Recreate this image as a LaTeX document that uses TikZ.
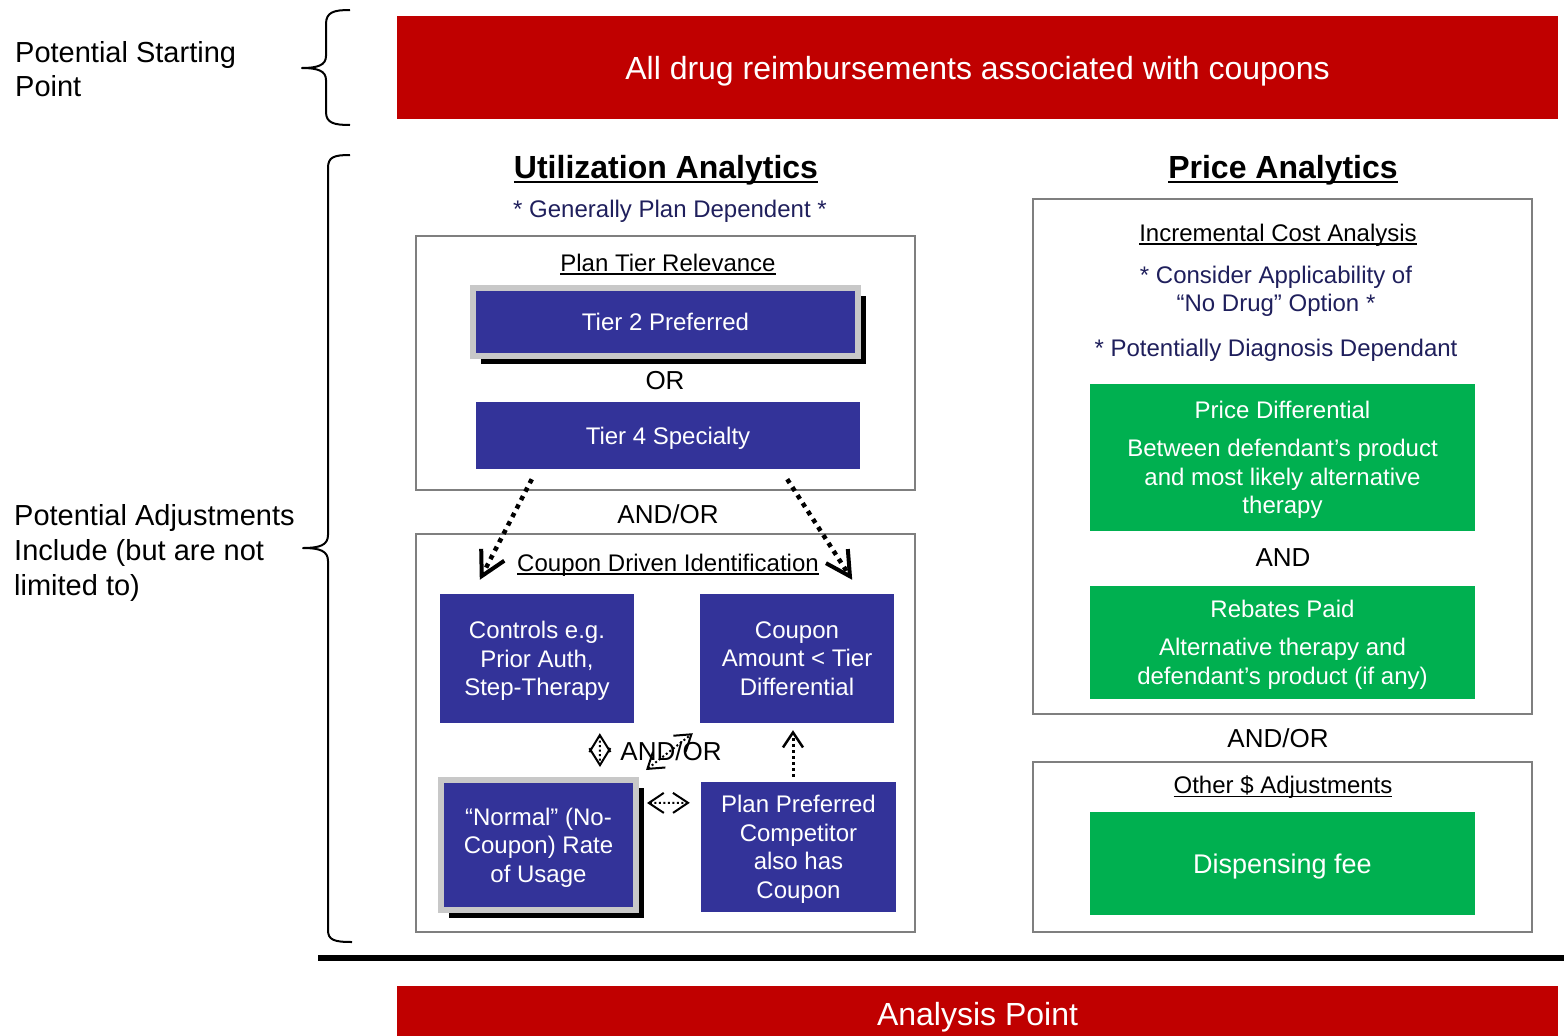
\documentclass[tikz,border=0pt]{standalone}
\usepackage{fontspec}
\setmainfont{Liberation Sans}
\usetikzlibrary{arrows.meta,calc,shadows}
\definecolor{cred}{HTML}{C00000}
\definecolor{cblue}{HTML}{333399}
\definecolor{cgreen}{HTML}{00B050}
\definecolor{cnavy}{HTML}{1F1F5C}
\definecolor{cframe}{HTML}{C8C8C8}
\definecolor{cborder}{HTML}{7F7F7F}
\newcommand\fsz[2]{\fontsize{#1}{#2}\selectfont}
% underline at a fixed distance below the baseline
\newcommand\undl[1]{\begingroup\setbox0=\hbox{#1}\rlap{\rule[-0.14em]{\wd0}{0.07em}}\box0\endgroup}
\begin{document}
\begin{tikzpicture}[x=1pt,y=-1pt,
  every node/.style={text depth=0pt},
  plain/.style={inner sep=0pt, align=center},
  redbar/.style={fill=cred, text=white, inner sep=0pt, font=\fsz{32}{38}},
  panel/.style={draw=cborder, line width=1.5pt, fill=white, minimum width=499pt, inner sep=0pt},
  bluebox/.style={fill=cblue, text=white, align=center, inner sep=0pt, font=\fsz{24}{28.5}},
  framedbox/.style={bluebox, draw=cframe, line width=6pt,
    general shadow={fill=black, shadow xshift=8pt, shadow yshift=-8pt}},
  greenbox/.style={fill=cgreen, text=white, align=center, inner sep=0pt,
    minimum width=385pt, font=\fsz{24}{28.5}},
  brace/.style={line width=2pt, line join=round},
  bigdot/.style={line width=4.5pt, dash pattern=on 4.5pt off 5pt,
    -{Straight Barb[length=24pt,width=26pt,line width=4pt]}},
  smalldbl/.style={line width=2pt, dash pattern=on 2pt off 2.5pt,
    {Straight Barb[length=15pt,width=20pt,line width=2pt]}-{Straight Barb[length=15pt,width=20pt,line width=2pt]}},
  smallup/.style={line width=3pt, dash pattern=on 3pt off 3pt,
    -{Straight Barb[length=15pt,width=20pt,line width=2.5pt]}}
]
\useasboundingbox (0,0) rectangle (1564,1036);

% ---- starting point and analysis point bars
\node[redbar, minimum width=1161pt, minimum height=103pt] (start) at (977.5,67.5)
  {All drug reimbursements associated with coupons};
\node[redbar, minimum width=1161pt, minimum height=56pt] (analysis) at (977.5,1014)
  {Analysis Point};

% ---- left captions and braces
\node[plain, anchor=west, align=left, font=\fsz{29}{34}] (lstart) at (15,69)
  {Potential Starting\\Point};
\node[plain, anchor=west, align=left, font=\fsz{29}{35}] (ladj) at (14,550)
  {Potential Adjustments\\Include (but are not\\limited to)};

\draw[brace] (350,10) .. controls (334,10) and (326,12) .. (326,24) -- (326,56)
  .. controls (326,65) and (318,68) .. (302,68)
  .. controls (318,68) and (326,71) .. (326,80) -- (326,112)
  .. controls (326,123) and (334,125) .. (350,125);
\draw[brace] (350,155) .. controls (334,155) and (328,157) .. (328,168) -- (328,535)
  .. controls (328,545) and (320,548) .. (303,548)
  .. controls (320,548) and (328,551) .. (328,561) -- (328,930)
  .. controls (328,940) and (334,942) .. (352,942);

\draw[line width=6.5pt] (318,958) -- (1564,958);

% ---- utilization analytics
\node[plain, font=\bfseries\fsz{32}{38}] (utiltitle) at (666,167) {\undl{Utilization Analytics}};
\node[plain, text=cnavy, font=\fsz{24}{28}] (utilnote) at (670,209) {* Generally Plan Dependent *};

\node[panel, minimum height=254pt] (planbox) at (665.5,363) {};
\node[panel, minimum height=398pt] (coupbox) at (665.5,733) {};

\node[plain, font=\fsz{24}{28}] (plantitle) at (668,263) {\undl{Plan Tier Relevance}};
\node[framedbox, minimum width=385pt, minimum height=68pt] (tier2) at (665.5,322) {Tier 2 Preferred};
\node[plain, font=\fsz{26}{30}] (ortext) at (665,380) {OR};
\node[bluebox, minimum width=384pt, minimum height=67pt] (tier4) at (668,435.5) {Tier 4 Specialty};

\node[plain, font=\fsz{26}{30}] (andor1) at (668,514) {AND/OR};
\node[plain, font=\fsz{24}{28}] (couptitle) at (668,563) {\undl{Coupon Driven Identification}};

\node[bluebox, minimum width=194pt, minimum height=129pt] (ctrl) at (537,658.5)
  {Controls e.g.\\Prior Auth,\\Step-Therapy};
\node[bluebox, minimum width=194pt, minimum height=129pt] (coupamt) at (797,658.5)
  {Coupon\\Amount < Tier\\Differential};
\node[framedbox, minimum width=195pt, minimum height=130pt] (norm) at (538.5,845)
  {“Normal” (No-\\Coupon) Rate\\of Usage};
\node[bluebox, minimum width=195pt, minimum height=130pt] (planpref) at (798.5,847)
  {Plan Preferred\\Competitor\\also has\\Coupon};
\node[plain, font=\fsz{26}{30}] (andor2) at (671,751) {AND/OR};

% connectors between the utilization boxes
\draw[bigdot] ($(tier4.south west)+(56,10)$) -- ($(ctrl.north west)+(40,-14)$);
\draw[bigdot] ($(tier4.south east)+(-73,10)$) -- ($(coupamt.north east)+(-42,-14)$);
\draw[smalldbl, {Straight Barb[length=17pt,width=21pt,line width=2pt]}-{Straight Barb[length=17pt,width=21pt,line width=2pt]}]
  ($(ctrl.south west)+(160,10)$) -- ($(norm.north west)+(162,-10)$);
\draw[smalldbl] ($(norm.north east)+(7,-7)$) -- ($(coupamt.south west)+(-7,10)$);
\draw[smalldbl] ($(norm.north east)+(8,26)$) -- ($(planpref.north west)+(-11,21)$);
\draw[smallup] ($(planpref.north)+(-5.5,-5)$) -- ($(coupamt.south)+(-4,7)$);

% ---- price analytics
\node[plain, font=\bfseries\fsz{32}{38}] (pricetitle) at (1283,167) {\undl{Price Analytics}};
\node[panel, minimum height=515pt] (pricebox) at (1282.5,456.5) {};
\node[panel, minimum height=170pt] (otherbox) at (1282.5,847) {};

\node[plain, font=\fsz{24}{28}] (incr) at (1278,233) {\undl{Incremental Cost Analysis}};
\node[plain, text=cnavy, font=\fsz{24}{28}] (consider) at (1276,289)
  {* Consider Applicability of\\“No Drug” Option *};
\node[plain, text=cnavy, font=\fsz{24}{28}] (diagdep) at (1276,348) {* Potentially Diagnosis Dependant};

\node[greenbox, minimum height=147pt] (pricediff) at (1282.5,457.5)
  {Price Differential\\[9.5pt]Between defendant’s product\\and most likely alternative\\therapy};
\node[plain, font=\fsz{26}{30}] (andtext) at (1283,558) {AND};
\node[greenbox, minimum height=113pt] (rebates) at (1282.5,642.5)
  {Rebates Paid\\[9.5pt]Alternative therapy and\\defendant’s product (if any)};

\node[plain, font=\fsz{26}{30}] (andor3) at (1278,738) {AND/OR};
\node[plain, font=\fsz{24}{28}] (othertitle) at (1283,785) {\undl{Other \$ Adjustments}};
\node[greenbox, minimum height=103pt, font=\fsz{27}{32}] (dispfee) at (1282.5,863.5) {Dispensing fee};
\end{tikzpicture}
\end{document}
